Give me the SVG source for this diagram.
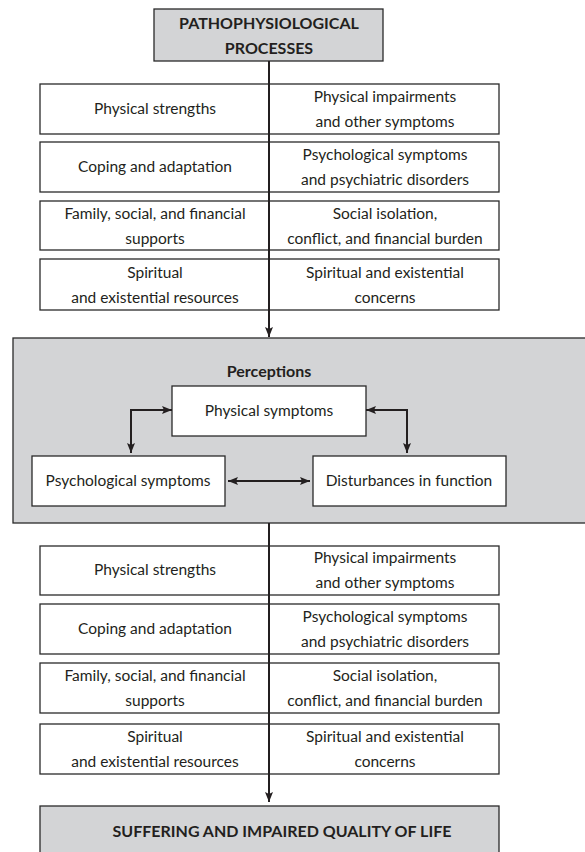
<svg xmlns="http://www.w3.org/2000/svg" width="585" height="852" viewBox="0 0 585 852">
  <style>
    .box { fill: #ffffff; stroke: #2a2a2a; stroke-width: 1.3; }
    .grey { fill: #d3d4d6; stroke: #2a2a2a; stroke-width: 1.3; }
    .t { font-family: Lato, "Open Sans", "Liberation Sans", sans-serif; font-size: 15.5px; fill: #231f20; text-anchor: middle; }
    .b { font-weight: bold; font-size: 16px; }
    .line { stroke: #231f20; stroke-width: 2; fill: none; }
  </style>
  <defs>
    <marker id="arrow" markerUnits="userSpaceOnUse" markerWidth="10" markerHeight="10" viewBox="0 0 10 10" refX="10" refY="5" orient="auto-start-reverse">
      <path d="M0,1 L10,5 L0,9 L2,5 Z" fill="#231f20"/>
    </marker>
  </defs>

  <rect width="585" height="852" fill="#ffffff"/>

  <!-- top process -->
  <g id="pathophysiological">
    <rect class="grey" x="154" y="9" width="229" height="52"/>
    <text class="t b" x="269" y="29">PATHOPHYSIOLOGICAL</text>
    <text class="t b" x="269" y="54">PROCESSES</text>
  </g>

  <!-- upper factor rows -->
  <g id="upper-factors">
    <g id="u-row1">
      <rect class="box" x="40" y="84" width="459" height="50"/>
      <text class="t" x="155" y="114">Physical strengths</text>
      <text class="t" x="385" y="102">Physical impairments</text>
      <text class="t" x="385" y="127">and other symptoms</text>
    </g>
    <g id="u-row2">
      <rect class="box" x="40" y="142" width="459" height="50"/>
      <text class="t" x="155" y="172">Coping and adaptation</text>
      <text class="t" x="385" y="160">Psychological symptoms</text>
      <text class="t" x="385" y="185">and psychiatric disorders</text>
    </g>
    <g id="u-row3">
      <rect class="box" x="40" y="201" width="459" height="49"/>
      <text class="t" x="155" y="219">Family, social, and financial</text>
      <text class="t" x="155" y="244">supports</text>
      <text class="t" x="385" y="219">Social isolation,</text>
      <text class="t" x="385" y="244">conflict, and financial burden</text>
    </g>
    <g id="u-row4">
      <rect class="box" x="40" y="259" width="459" height="51"/>
      <text class="t" x="155" y="278">Spiritual</text>
      <text class="t" x="155" y="303">and existential resources</text>
      <text class="t" x="385" y="278">Spiritual and existential</text>
      <text class="t" x="385" y="303">concerns</text>
    </g>
  </g>

  <!-- perceptions panel -->
  <g id="perceptions">
    <rect class="grey" x="13" y="338" width="580" height="185"/>
    <text class="t b" x="269" y="377">Perceptions</text>
  </g>
  <g id="physical-symptoms">
    <rect class="box" x="172" y="386" width="194" height="50"/>
    <text class="t" x="269" y="416">Physical symptoms</text>
  </g>
  <g id="psychological-symptoms">
    <rect class="box" x="32" y="456" width="193" height="50"/>
    <text class="t" x="128" y="486">Psychological symptoms</text>
  </g>
  <g id="disturbances">
    <rect class="box" x="313" y="456" width="193" height="50"/>
    <text class="t" x="409" y="486">Disturbances in function</text>
  </g>

  <!-- lower factor rows -->
  <g id="lower-factors">
    <g id="l-row1">
      <rect class="box" x="40" y="546" width="459" height="49"/>
      <text class="t" x="155" y="575">Physical strengths</text>
      <text class="t" x="385" y="563">Physical impairments</text>
      <text class="t" x="385" y="588">and other symptoms</text>
    </g>
    <g id="l-row2">
      <rect class="box" x="40" y="604" width="459" height="50"/>
      <text class="t" x="155" y="634">Coping and adaptation</text>
      <text class="t" x="385" y="622">Psychological symptoms</text>
      <text class="t" x="385" y="647">and psychiatric disorders</text>
    </g>
    <g id="l-row3">
      <rect class="box" x="40" y="663" width="459" height="50"/>
      <text class="t" x="155" y="681">Family, social, and financial</text>
      <text class="t" x="155" y="706">supports</text>
      <text class="t" x="385" y="681">Social isolation,</text>
      <text class="t" x="385" y="706">conflict, and financial burden</text>
    </g>
    <g id="l-row4">
      <rect class="box" x="40" y="724" width="459" height="50"/>
      <text class="t" x="155" y="742">Spiritual</text>
      <text class="t" x="155" y="767">and existential resources</text>
      <text class="t" x="385" y="742">Spiritual and existential</text>
      <text class="t" x="385" y="767">concerns</text>
    </g>
  </g>

  <!-- outcome -->
  <g id="suffering">
    <rect class="grey" x="40" y="806" width="459" height="60"/>
    <text class="t b" x="282" y="837">SUFFERING AND IMPAIRED QUALITY OF LIFE</text>
  </g>

  <!-- connectors -->
  <g id="connectors">
    <line class="line" x1="269" y1="61" x2="269" y2="337" marker-end="url(#arrow)"/>
    <polyline class="line" points="131,453 131,410 172,410" marker-start="url(#arrow)" marker-end="url(#arrow)"/>
    <polyline class="line" points="407,453 407,410 366,410" marker-start="url(#arrow)" marker-end="url(#arrow)"/>
    <line class="line" x1="228" y1="481" x2="310" y2="481" marker-start="url(#arrow)" marker-end="url(#arrow)"/>
    <line class="line" x1="269" y1="523" x2="269" y2="802" marker-end="url(#arrow)"/>
  </g>
</svg>
